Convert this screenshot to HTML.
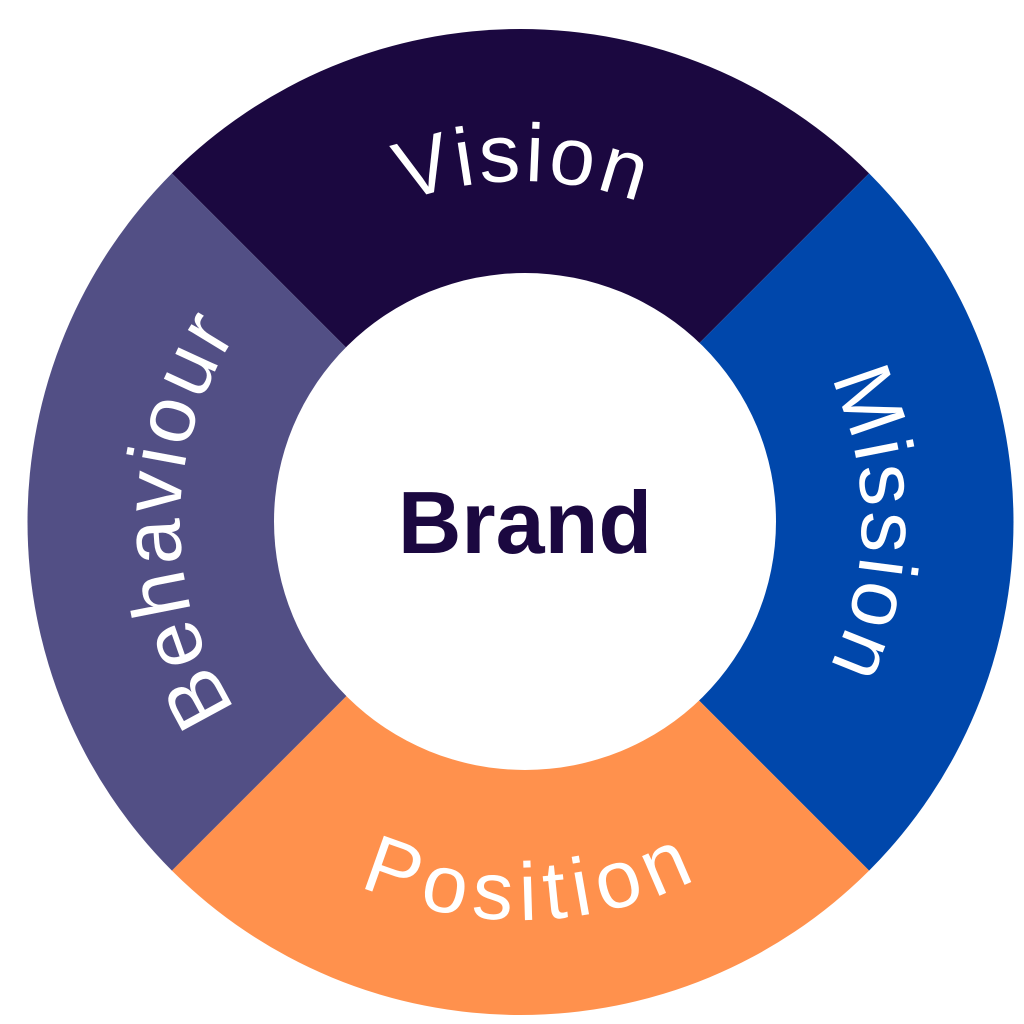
<!DOCTYPE html>
<html>
<head>
<meta charset="utf-8">
<style>
  html, body { margin: 0; padding: 0; background: #ffffff; }
  body { width: 1024px; height: 1024px; overflow: hidden; }
  svg { display: block; }
  .lbl { font-family: "Liberation Sans", "DejaVu Sans", sans-serif; font-size: 82px; fill: #ffffff; letter-spacing: 3.5px; }
  .lblp { font-family: "Liberation Sans", "DejaVu Sans", sans-serif; font-size: 82px; fill: #ffffff; letter-spacing: 8px; }
  .brand { font-family: "Liberation Sans", "DejaVu Sans", sans-serif; font-size: 88px; font-weight: bold; fill: #1b0840; }
</style>
</head>
<body>
<svg width="1024" height="1024" viewBox="0 0 1024 1024" xmlns="http://www.w3.org/2000/svg">
  <rect x="0" y="0" width="1024" height="1024" fill="#ffffff"/>
  <path d="M520.5,522 L171.9,173.4 A493,493 0 0 1 869.1,173.4 Z" fill="#1b0840"/>
  <path d="M520.5,522 L869.1,173.4 A493,493 0 0 1 869.1,870.6 Z" fill="#0047ab"/>
  <path d="M520.5,522 L869.1,870.6 A493,493 0 0 1 171.9,870.6 Z" fill="#ff914d"/>
  <path d="M520.5,522 L171.9,870.6 A493,493 0 0 1 171.9,173.4 Z" fill="#524f85"/>

  <ellipse cx="525" cy="521.5" rx="251" ry="248.5" fill="#ffffff"/>

  <defs>
    <path id="pTop" d="M180,522 A341,341 0 0 1 862,522"/>
    <path id="pRight" d="M521,181 A341,341 0 0 1 521,863"/>
    <path id="pLeft" d="M521,863 A341,341 0 0 1 521,181"/>
    <path id="pBottom" d="M123,522 A398,398 0 0 0 919,522"/>
  </defs>

  <text class="lbl" text-anchor="middle"><textPath href="#pTop" startOffset="50.2%">Vision</textPath></text>
  <text class="lbl" text-anchor="middle"><textPath href="#pRight" startOffset="50.2%">Mission</textPath></text>
  <text class="lbl" text-anchor="middle"><textPath href="#pLeft" startOffset="50.2%">Behaviour</textPath></text>
  <text class="lblp" text-anchor="middle"><textPath href="#pBottom" startOffset="50.9%">Position</textPath></text>

  <text class="brand" x="525" y="553" text-anchor="middle">Brand</text>
</svg>
</body>
</html>
